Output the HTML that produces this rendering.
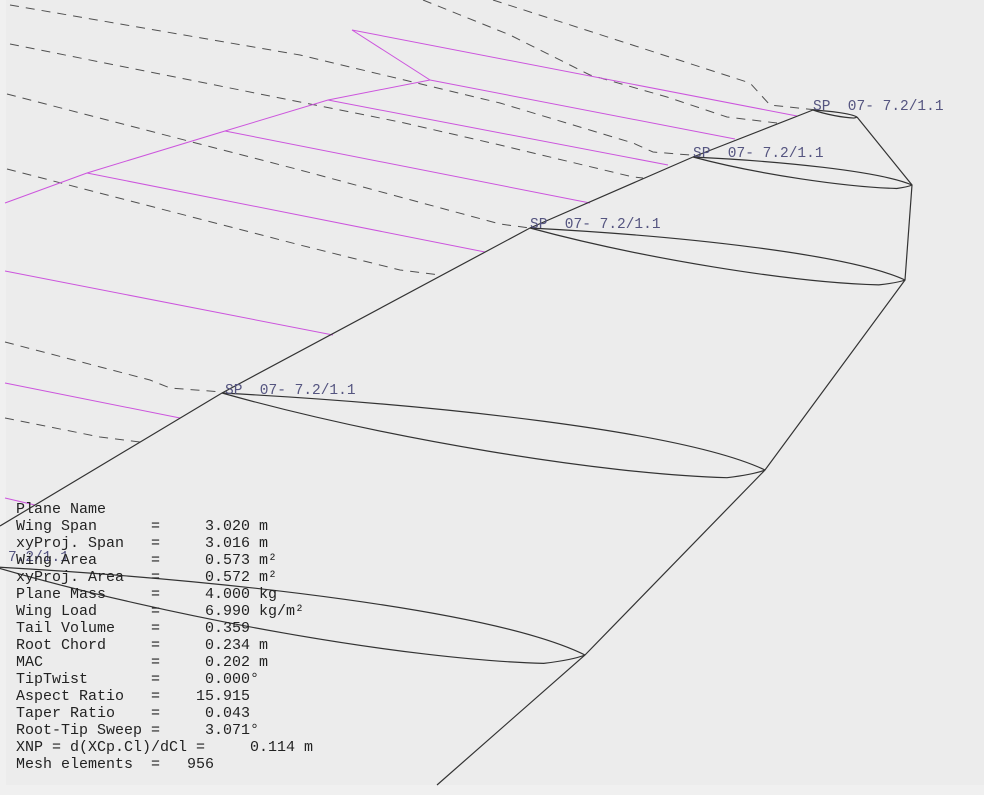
<!DOCTYPE html>
<html><head><meta charset="utf-8"><style>
html,body{margin:0;padding:0;background:#f0f0f0;}
svg{display:block;}
text{white-space:pre;}
</style></head><body>
<svg id="view" width="984" height="795" viewBox="0 0 984 795" xmlns="http://www.w3.org/2000/svg">
<rect x="6" y="0" width="978" height="785" fill="#ececec"/>
<g id="dashed" fill="none" stroke="#505050" stroke-width="1" stroke-dasharray="9,7"></g>
<g id="mag" fill="none" stroke="#cc55dd" stroke-width="1"></g>
<g id="wing" fill="none" stroke="#333" stroke-width="1.2"></g>
<g id="labels" font-family="'Liberation Mono', monospace" font-size="14.5" fill="#555580"></g>
<g id="info" font-family="'Liberation Mono', monospace" font-size="15" fill="#222"></g>
</svg>
<script>
// wing sections: leading edge and trailing edge (screen coordinates from projected view)
const sectionLE = [[813,110],[693,157],[530,228],[222,393],[-5,567]];
const sectionTE = [[857,117],[912,185],[905,280],[765,470],[585,655]];
const sectionThick = [3,10,14,22,24];
const labelText = ["SP  07- 7.2/1.1","SP  07- 7.2/1.1","SP  07- 7.2/1.1","SP  07- 7.2/1.1","7.2/1.1"];
const labelPos = [[813,110],[693,157],[530,228],[225,394],[8,561]];
const infoLabels = ["Plane Name","Wing Span      =     3.020 m","xyProj. Span   =     3.016 m","Wing Area      =     0.573 m²","xyProj. Area   =     0.572 m²","Plane Mass     =     4.000 kg","Wing Load      =     6.990 kg/m²","Tail Volume    =     0.359","Root Chord     =     0.234 m","MAC            =     0.202 m","TipTwist       =     0.000°","Aspect Ratio   =    15.915","Taper Ratio    =     0.043","Root-Tip Sweep =     3.071°","XNP = d(XCp.Cl)/dCl =     0.114 m","Mesh elements  =   956"];
const dashedLines = [
 [[423,0],[510,35],[590,75],[667,97],[727,117],[777,123]],
 [[493,0],[750,83],[770,105],[817,110]],
 [[10,5],[300,55],[500,103],[633,143],[653,152],[690,155]],
 [[10,44],[400,122],[500,145],[633,177],[643,178]],
 [[7,94],[300,170],[500,224],[530,228]],
 [[7,169],[300,245],[400,270],[440,275]],
 [[5,342],[150,380],[170,388],[222,392]],
 [[5,418],[100,437],[140,442]]
];
const panelLines = [
 [[5,203],[87,173],[225,131],[328,100],[430,80],[352,30]],
 [[352,30],[797,116]],[[430,80],[735,139]],[[328,100],[668,165]],
 [[225,131],[590,203]],[[87,173],[485,252]],[[5,271],[333,335]],
 [[5,383],[180,418]],[[5,498],[35,505]]
];
const trailingLine = [[857,117],[912,185],[905,280],[765,470],[585,655],[437,785]];
const leadingLine = [[813,110],[693,157],[530,228],[222,393],[0,526]];
const NS="http://www.w3.org/2000/svg";
function pl(pts){return pts.map((p,i)=>(i?"L":"M")+p[0]+","+p[1]).join(" ");}
function add(g,tag,attrs){const e=document.createElementNS(NS,tag);for(const k in attrs)e.setAttribute(k,attrs[k]);document.getElementById(g).appendChild(e);return e;}
dashedLines.forEach(l=>{const e=add("dashed","path",{d:pl(l)});

});
panelLines.forEach(l=>{const e=add("mag","path",{d:pl(l)});

});
{const e=add("wing","path",{d:pl(trailingLine)});

}
{const e=add("wing","path",{d:pl(leadingLine)});

}
sectionLE.forEach((le,i)=>{
 const te=sectionTE[i],t=sectionThick[i];
 const dx=te[0]-le[0],dy=te[1]-le[1];
 const up=`M${le[0]},${le[1]} C${le[0]+dx*0.4},${le[1]+dy*0.15} ${le[0]+dx*0.85},${le[1]+dy*0.5} ${te[0]},${te[1]}`;
 const bx=le[0]+dx*0.93,by=le[1]+dy*1.0+t*0.35;
 const lo=`M${le[0]},${le[1]} C${le[0]+dx*0.3},${le[1]+dy*0.45+t*0.5} ${le[0]+dx*0.7},${le[1]+dy*1.0+t*0.2} ${bx},${by} Q${te[0]-dx*0.02},${te[1]+t*0.2} ${te[0]},${te[1]}`;
 const e=add("wing","path",{d:up+" "+lo});
 
 
});
labelText.forEach((t,i)=>{const e=add("labels","text",{x:labelPos[i][0],y:labelPos[i][1]});e.textContent=t;

});
infoLabels.forEach((t,i)=>{const e=add("info","text",{x:16,y:513+i*17});e.textContent=t;

});
</script>
</body></html>
